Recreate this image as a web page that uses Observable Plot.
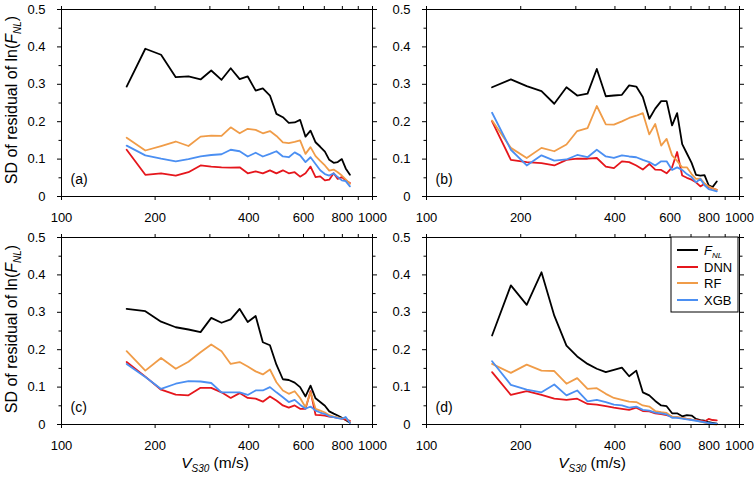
<!DOCTYPE html>
<html><head><meta charset="utf-8">
<script src="https://cdn.jsdelivr.net/npm/d3@7"></script>
<script src="https://cdn.jsdelivr.net/npm/@observablehq/plot@0.6"></script>
<style>
body{margin:0;background:#fff;}
#chart{position:relative;width:754px;height:480px;font-family:"Liberation Sans",Arial,sans-serif;background:#fff;}
#chart svg{position:absolute;}
</style></head><body><div id="chart"></div>
<script>
// VS30 bin centres (m/s)
const vs30 = [162,186,209,233,256,280,303,327,350,374,397,421,444,468,491,515,538,562,585,609,632,656,679,703,726,750,773,797,820,846];

// Panel (a)
const fnlA = [0.294,0.395,0.379,0.319,0.321,0.313,0.337,0.312,0.343,0.314,0.321,0.283,0.289,0.270,0.221,0.212,0.197,0.198,0.205,0.160,0.176,0.145,0.133,0.120,0.098,0.090,0.092,0.100,0.075,0.058];
const dnnA = [0.125,0.058,0.062,0.056,0.065,0.083,0.080,0.078,0.077,0.078,0.062,0.067,0.062,0.070,0.062,0.070,0.062,0.065,0.053,0.062,0.080,0.052,0.054,0.043,0.045,0.062,0.047,0.052,0.043,0.036];
const rfA  = [0.157,0.123,0.135,0.147,0.135,0.160,0.163,0.162,0.185,0.169,0.181,0.178,0.169,0.175,0.162,0.145,0.143,0.146,0.150,0.114,0.132,0.108,0.095,0.083,0.069,0.072,0.065,0.056,0.046,0.034];
const xgbA = [0.136,0.110,0.101,0.094,0.100,0.107,0.111,0.113,0.125,0.121,0.107,0.117,0.107,0.114,0.121,0.107,0.105,0.118,0.110,0.092,0.105,0.087,0.070,0.060,0.056,0.062,0.052,0.043,0.041,0.027];

// Panel (b)
const fnlB = [0.292,0.313,0.295,0.282,0.248,0.292,0.270,0.275,0.341,0.268,0.270,0.272,0.297,0.294,0.266,0.208,0.235,0.255,0.255,0.190,0.223,0.140,0.115,0.090,0.058,0.056,0.057,0.030,0.025,0.040];
const dnnB = [0.201,0.098,0.092,0.089,0.083,0.098,0.101,0.101,0.103,0.080,0.076,0.094,0.092,0.083,0.072,0.087,0.072,0.071,0.062,0.078,0.119,0.056,0.050,0.045,0.038,0.027,0.034,0.025,0.022,0.018];
const rfB  = [0.203,0.130,0.103,0.130,0.121,0.139,0.175,0.183,0.242,0.193,0.192,0.201,0.210,0.216,0.223,0.166,0.194,0.136,0.154,0.110,0.095,0.078,0.078,0.060,0.047,0.048,0.035,0.027,0.022,0.018];
const xgbB = [0.224,0.125,0.083,0.110,0.096,0.099,0.111,0.105,0.125,0.107,0.103,0.110,0.107,0.105,0.098,0.092,0.083,0.094,0.094,0.071,0.078,0.071,0.060,0.052,0.038,0.047,0.030,0.020,0.017,0.014];

// Panel (c)
const fnlC = [0.309,0.303,0.275,0.260,0.254,0.247,0.285,0.272,0.281,0.309,0.274,0.290,0.220,0.212,0.160,0.121,0.119,0.112,0.100,0.075,0.104,0.070,0.060,0.050,0.035,0.029,0.024,0.018,0.012,0.005];
const dnnC = [0.167,0.128,0.093,0.080,0.078,0.098,0.098,0.086,0.071,0.084,0.071,0.069,0.061,0.075,0.064,0.051,0.045,0.051,0.042,0.042,0.089,0.026,0.025,0.024,0.021,0.020,0.018,0.016,0.013,0.010];
const rfC  = [0.196,0.144,0.178,0.149,0.168,0.193,0.214,0.196,0.162,0.167,0.155,0.142,0.134,0.147,0.113,0.091,0.082,0.089,0.071,0.046,0.086,0.042,0.037,0.032,0.025,0.021,0.019,0.016,0.018,0.006];
const xgbC = [0.162,0.127,0.095,0.109,0.116,0.115,0.111,0.086,0.086,0.086,0.079,0.091,0.091,0.100,0.086,0.073,0.060,0.066,0.053,0.042,0.048,0.037,0.032,0.028,0.022,0.020,0.017,0.015,0.020,0.004];

// Panel (d)
const fnlD = [0.238,0.372,0.320,0.407,0.291,0.211,0.182,0.162,0.149,0.140,0.146,0.152,0.129,0.144,0.086,0.078,0.063,0.051,0.049,0.030,0.030,0.022,0.025,0.024,0.015,0.012,0.010,0.006,0.004,0.002];
const dnnD = [0.140,0.079,0.089,0.079,0.069,0.066,0.069,0.055,0.053,0.049,0.045,0.042,0.039,0.045,0.036,0.035,0.030,0.028,0.025,0.021,0.019,0.017,0.015,0.013,0.012,0.010,0.008,0.015,0.012,0.011];
const rfD  = [0.162,0.138,0.160,0.144,0.143,0.109,0.124,0.095,0.097,0.082,0.071,0.066,0.061,0.060,0.051,0.048,0.036,0.033,0.031,0.021,0.020,0.018,0.015,0.013,0.011,0.008,0.005,0.002,0.001,0.000];
const xgbD = [0.169,0.106,0.093,0.086,0.107,0.078,0.091,0.062,0.066,0.060,0.053,0.051,0.045,0.048,0.039,0.037,0.032,0.030,0.027,0.018,0.018,0.016,0.014,0.012,0.010,0.008,0.006,0.004,0.003,0.002];

const panelTags = ["(a)","(b)","(c)","(d)"];
const xTicks = [100,200,300,400,500,600,700,800,900,1000];
const xTickLabels = [100,200,400,600,800,1000];
const yTicks = [0,0.1,0.2,0.3,0.4,0.5];
const yMinorTicks = [0.05,0.15,0.25,0.35,0.45];
const seriesNames = ["FNL","DNN","RF","XGB"];
const seriesColors = ["#000000","#e5161c","#f09c48","#4b8ff2"];

const chart = document.getElementById("chart");

function makePanel(cfg) {
  const series = cfg.series;
  const lineMarks = series.map((vals, k) =>
    Plot.line(vs30.map((v, i) => ({v, sd: vals[i]})), {x: "v", y: "sd", stroke: seriesColors[k], strokeWidth: 1.8})
  );
  const svg = Plot.plot({
    width: cfg.width, height: cfg.height,
    marginLeft: cfg.mL, marginTop: cfg.mT, marginRight: cfg.mR, marginBottom: cfg.mB,
    style: {fontFamily: "Liberation Sans, Arial, sans-serif", fontSize: "13px", color: "#000", background: "transparent", overflow: "visible"},
    x: {type: "log", domain: [100, 1000]},
    y: {domain: [0, 0.5]},
    marks: [
      Plot.axisX({anchor: "bottom", ticks: xTicks, tickSize: 4, tickPadding: 12, label: null,
        tickFormat: d => xTickLabels.includes(d) ? String(d) : ""}),
      Plot.axisX({anchor: "top", ticks: xTicks, tickSize: 4, label: null, tickFormat: () => ""}),
      Plot.axisY({anchor: "left", ticks: yTicks, tickSize: 4, tickPadding: 12, label: null,
        tickFormat: d => d === 0 ? "0" : d.toFixed(1)}),
      Plot.axisY({anchor: "left", ticks: yMinorTicks, tickSize: 2.5, label: null, tickFormat: () => ""}),
      Plot.axisY({anchor: "right", ticks: yTicks, tickSize: 4, label: null, tickFormat: () => ""}),
      Plot.axisY({anchor: "right", ticks: yMinorTicks, tickSize: 2.5, label: null, tickFormat: () => ""}),
      ...lineMarks,
      Plot.frame({stroke: "#000", strokeWidth: 1}),
      Plot.text([cfg.tag], {text: d => d, frameAnchor: "bottom-left", dx: 9, dy: -13, textAnchor: "start", fontSize: 14})
    ]
  });
  svg.style.left = cfg.left + "px";
  svg.style.top = cfg.top + "px";
  const s = d3.select(svg);
  if (cfg.yTitle != null) {
    const t = s.append("text").attr("transform", `translate(17,${cfg.yTitle}) rotate(-90)`)
      .attr("text-anchor", "middle").attr("font-size", 16).attr("fill", "#000");
    t.append("tspan").text("SD of residual of ln(");
    t.append("tspan").attr("font-style", "italic").text("F");
    t.append("tspan").attr("font-style", "italic").attr("font-size", 10).attr("dy", 4).text("NL");
    t.append("tspan").attr("dy", -4).text(")");
  }
  if (cfg.xTitle != null) {
    const t = s.append("text").attr("x", cfg.xTitle).attr("y", 243)
      .attr("text-anchor", "middle").attr("font-size", 15.5).attr("fill", "#000");
    t.append("tspan").attr("font-style", "italic").text("V");
    t.append("tspan").attr("font-style", "italic").attr("font-size", 10).attr("dy", 4).text("S30");
    t.append("tspan").attr("dy", -4).text(" (m/s)");
  }
  if (cfg.legend) {
    const g = s.append("g").attr("text-anchor", "start");
    g.append("rect").attr("x", 294).attr("y", 12).attr("width", 67).attr("height", 75)
      .attr("fill", "#fff").attr("stroke", "#000").attr("stroke-width", 1);
    const rowsY = [25, 42, 58, 75];
    seriesNames.forEach((name, k) => {
      g.append("line").attr("x1", 300).attr("x2", 321).attr("y1", rowsY[k]).attr("y2", rowsY[k])
        .attr("stroke", seriesColors[k]).attr("stroke-width", 2);
      const t = g.append("text").attr("x", 327).attr("y", rowsY[k] + 5).attr("font-size", 13)
        .attr("text-anchor", "start").attr("fill", "#000");
      if (name === "FNL") {
        t.append("tspan").attr("font-style", "italic").text("F");
        t.append("tspan").attr("font-style", "italic").attr("font-size", 8).attr("dy", 3).text("NL");
      } else {
        t.text(name);
      }
    });
  }
  chart.appendChild(svg);
}

makePanel({series: [fnlA, dnnA, rfA, xgbA], tag: panelTags[0], left: 0, top: 0, width: 377, height: 225, mL: 61, mT: 9, mR: 5, mB: 29, yTitle: 100});
makePanel({series: [fnlB, dnnB, rfB, xgbB], tag: panelTags[1], left: 377, top: 0, width: 377, height: 225, mL: 49, mT: 9, mR: 15, mB: 29});
makePanel({series: [fnlC, dnnC, rfC, xgbC], tag: panelTags[2], left: 0, top: 225, width: 377, height: 255, mL: 61, mT: 12, mR: 5, mB: 56, yTitle: 104, xTitle: 215});
makePanel({series: [fnlD, dnnD, rfD, xgbD], tag: panelTags[3], left: 377, top: 225, width: 377, height: 255, mL: 49, mT: 12, mR: 15, mB: 56, xTitle: 215, legend: true});
</script>
</body></html>
